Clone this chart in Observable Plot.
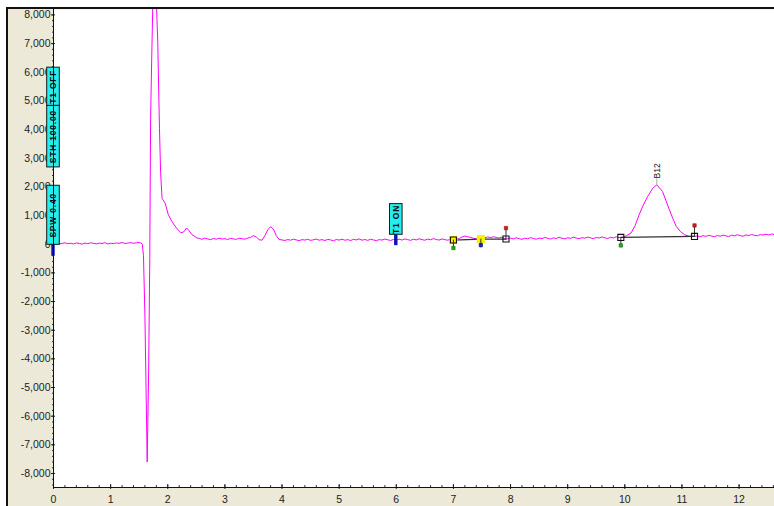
<!DOCTYPE html>
<html><head><meta charset="utf-8">
<script src="https://cdn.jsdelivr.net/npm/d3@7"></script>
<script src="https://cdn.jsdelivr.net/npm/@observablehq/plot@0.6"></script>
<style>
html,body{margin:0;padding:0;background:#fff;}
#wrap{position:relative;width:774px;height:506px;overflow:hidden;}
#panel{position:absolute;left:6px;top:7px;right:0;bottom:0;background:#ECE9D8;border-left:2px solid #111;border-top:2px solid #111;}
#chart{position:absolute;left:0;top:0;}
</style></head><body>
<div id="wrap"><div id="panel"></div><div id="chart"></div></div>
<script>
// ---- chromatogram trace (retention time in min, signal) ----
const retentionTime = [
  0,0.05,0.1,0.15,0.2,0.25,0.3,0.35,0.4,0.45,0.5,0.55,0.6,0.65,0.7,0.75,0.8,0.85,0.9,0.95,1,1.05,1.1,1.15,1.2,1.25,1.3,1.35,1.4,1.45,1.5,
  1.53,1.555,1.575,1.6,1.62,1.64,1.665,1.685,1.7,1.72,1.745,1.77,1.795,1.825,1.855,1.875,1.9,1.955,2.01,2.07,2.15,2.23,2.28,2.33,2.37,2.42,2.46,2.51,
  2.55,2.6,2.65,2.7,2.75,2.8,2.85,2.9,2.95,3,3.05,3.1,3.15,3.2,3.25,3.3,3.35,3.4,3.45,
  3.5,3.55,3.6,3.65,3.7,3.75,3.8,3.85,3.9,3.95,
  4,4.05,4.1,4.15,4.2,4.25,4.3,4.35,4.4,4.45,4.5,4.55,4.6,4.65,4.7,4.75,4.8,4.85,4.9,4.95,
  5,5.05,5.1,5.15,5.2,5.25,5.3,5.35,5.4,5.45,5.5,5.55,5.6,5.65,5.7,5.75,5.8,5.85,5.9,5.95,
  6,6.05,6.1,6.15,6.2,6.25,6.3,6.35,6.4,6.45,6.5,6.55,6.6,6.65,6.7,6.75,6.8,6.85,6.9,6.95,7,
  7.05,7.1,7.15,7.2,7.25,7.3,7.35,7.4,7.45,7.5,7.55,7.6,7.65,7.7,7.75,7.8,7.85,7.9,7.95,
  8,8.05,8.1,8.15,8.2,8.25,8.3,8.35,8.4,8.45,8.5,8.55,8.6,8.65,8.7,8.75,8.8,8.85,8.9,8.95,
  9,9.05,9.1,9.15,9.2,9.25,9.3,9.35,9.4,9.45,9.5,9.55,9.6,9.65,9.7,9.75,9.8,9.85,9.9,
  9.93,9.98,10.03,10.11,10.18,10.25,10.32,10.4,10.49,10.56,10.66,10.72,10.78,10.84,10.9,10.97,11.04,11.12,11.22,
  11.27,11.32,11.37,11.42,11.47,11.52,11.57,11.62,11.67,11.72,11.77,11.82,11.87,11.92,11.97,12.02,12.07,12.12,12.17,12.22,12.27,12.32,12.37,12.42,12.47,12.52,12.57,12.62
];
const signal = [
  15,40,5,30,50,20,35,10,45,25,5,40,20,50,30,15,40,25,55,10,35,20,45,30,60,25,40,55,35,50,60,
  45,0,-400,-2500,-5000,-7600,-4500,-500,4400,6600,9000,10500,8800,7050,4030,2500,1600,1430,1030,800,570,400,430,566,480,340,290,220,
  205,170,215,185,160,200,175,210,180,195,165,205,185,170,210,190,175,215,240,
  300,250,160,140,300,500,615,520,300,165,
  150,130,165,140,175,150,125,160,145,170,135,155,180,140,160,130,170,150,120,165,
  145,175,140,160,130,170,150,185,140,165,135,175,150,125,160,145,180,155,130,165,
  150,175,145,185,160,135,175,150,190,160,140,180,155,195,165,145,185,160,140,175,146,
  170,200,250,285,260,240,205,190,170,181,225,255,230,260,240,215,250,185,190,
  215,185,225,195,170,210,190,230,200,175,215,195,235,205,180,220,200,240,210,185,
  225,205,245,215,190,230,210,250,220,195,235,215,255,225,200,240,220,260,230,
  237,250,300,392,650,1030,1350,1667,1955,2073,1840,1520,1205,900,625,450,337,280,272,
  290,260,300,275,310,285,260,305,280,320,290,270,315,295,330,300,280,325,305,340,310,295,335,320,350,325,355,340
];

// ---- axis ticks ----
const xTicks = [0,1,2,3,4,5,6,7,8,9,10,11,12];
const yTicks = [-8000,-7000,-6000,-5000,-4000,-3000,-2000,-1000,0,1000,2000,3000,4000,5000,6000,7000,8000];
const xDomain = [0, 12.62];
const yDomain = [-8488, 8190];

// ---- timed events (rotated cyan labels) ----
const eventTime   = [0, 0, 0, 6.0];
const eventText   = ["SPW 0.40", "STH 100.00", "T1 OFF", "T1 ON"];
const eventLow    = [-20, 2680, 4830, 330];
const eventHigh   = [2040, 4830, 6160, 1400];
const eventBarLow = [-420, -420, -420, -50];

// ---- integration markers ----
const markTime  = [7.0, 7.48, 7.92, 9.93, 11.22];
const markValue = [146, 181, 181, 237, 272];
const markKind  = ["start", "split", "end", "start", "end"];
const markBox   = [true, false, true, true, true];
const markHighlight = [true, true, false, false, false];
const baselineGroup = ["a", "a", "a", "b", "b"];

// ---- peak labels ----
const peakName = ["B12"];
const peakTime = [10.56];
const peakHeight = [2073];

const trace = retentionTime.map((t, i) => ({t, v: signal[i]}));
const events = eventTime.map((t, i) => ({t, label: eventText[i], lo: eventLow[i], hi: eventHigh[i], blo: eventBarLow[i]}));
const eventBars = events.filter((d, i) => i === 0 || i === 3);
const marks = markTime.map((t, i) => ({t, v: markValue[i], kind: markKind[i], box: markBox[i], hl: markHighlight[i], g: baselineGroup[i]}));
const peaks = peakName.map((n, i) => ({n, t: peakTime[i], v: peakHeight[i]}));

const fmt = d => (d < 0 ? "-" : "") + d3.format(",")(Math.abs(d));
const xMinor = d3.range(0, 12.61, 0.2);
const yMinor = d3.range(-8400, 8101, 200);
const line = {draw(ctx, l) { ctx.moveTo(0, 0); ctx.lineTo(0, -l); }};
const pinColor = {start: "#1DB31D", split: "#1a1ad0", end: "#e01818"};

const svg = Plot.plot({
  width: 774, height: 506,
  marginLeft: 53, marginRight: 0, marginTop: 9, marginBottom: 19,
  style: {background: "transparent", fontFamily: "'Liberation Sans', Arial, sans-serif", fontSize: "10.5px", color: "#222"},
  x: {domain: xDomain},
  y: {domain: yDomain},
  marks: [
    Plot.frame({fill: "white", stroke: "none"}),
    // axes
    Plot.axisY(yMinor, {tickSize: 2, dx: 1, tickFormat: () => "", label: null, stroke: "#333"}),
    Plot.axisY(yTicks, {tickSize: 4, dx: 2, tickPadding: 1, tickFormat: fmt, label: null, stroke: "#222", fill: "#222"}),
    Plot.axisX(xMinor, {tickSize: 3, dy: -2, tickFormat: () => "", label: null, stroke: "#333"}),
    Plot.axisX(xTicks, {tickSize: 5, dy: -3, tickPadding: 6, tickFormat: d => String(d), label: null, stroke: "#222", fill: "#222"}),
    // signal
    Plot.line(trace, {x: "t", y: "v", stroke: "#FF00FF", strokeWidth: 1, clip: true}),
    // integration baselines
    Plot.line(marks, {x: "t", y: "v", z: "g", stroke: "#333", strokeWidth: 1.3}),
    Plot.dot(marks.filter(d => d.hl), {x: "t", y: "v", symbol: "square", r: 4.6, fill: "#F4F400", stroke: "none"}),
    Plot.vector(marks.filter(d => d.kind !== "end"), {x: "t", y: "v", length: 8, rotate: 180, anchor: "start", shape: line, stroke: "#333", strokeWidth: 1}),
    Plot.vector(marks.filter(d => d.kind === "end"), {x: "t", y: "v", length: 10, rotate: 0, anchor: "start", shape: line, stroke: "#333", strokeWidth: 1}),
    Plot.dot(marks.filter(d => d.kind === "start"), {x: "t", y: "v", dy: 8, symbol: "square", r: 1.9, fill: pinColor.start, stroke: "#0a6a0a", strokeWidth: 0.6}),
    Plot.dot(marks.filter(d => d.kind === "split"), {x: "t", y: "v", dy: 6, symbol: "square", r: 1.9, fill: pinColor.split, stroke: "#001070", strokeWidth: 0.6}),
    Plot.dot(marks.filter(d => d.kind === "end"), {x: "t", y: "v", dy: -11, symbol: "square", r: 1.9, fill: pinColor.end, stroke: "#801010", strokeWidth: 0.6}),
    Plot.dot(marks.filter(d => d.box), {x: "t", y: "v", symbol: "square", r: 3.4, fill: "none", stroke: "#111", strokeWidth: 1.1}),
    // peak label
    Plot.vector(peaks, {x: "t", y: "v", length: 6, rotate: 0, anchor: "start", shape: line, stroke: "#aaa", strokeWidth: 1}),
    Plot.text(peaks, {x: "t", y: "v", text: "n", rotate: -90, dy: -14, fontSize: 8.5, fill: "#111"}),
    // timed events
    Plot.rect(eventBars, {x1: "t", x2: "t", y1: "blo", y2: "lo", insetLeft: -1.7, insetRight: -1.7, fill: "#1010B8", stroke: "none"}),
    Plot.rect(events, {x1: "t", x2: "t", y1: "lo", y2: "hi", insetLeft: -6.3, insetRight: -6.3, fill: "#24EEEE", stroke: "#1a1a1a", strokeWidth: 1}),
    Plot.text(events, {x: "t", y: d => (d.lo + d.hi) / 2, text: "label", rotate: -90, fontSize: 8.5, fontWeight: "bold", fill: "#111"}),
    // axis lines
    Plot.ruleX([xDomain[0]], {stroke: "#111", strokeWidth: 1}),
    Plot.ruleY([yDomain[0]], {stroke: "#111", strokeWidth: 1})
  ]
});
svg.querySelectorAll("text").forEach(t => {
  if (eventText.includes(t.textContent)) t.style.letterSpacing = "0.8px";
});
document.getElementById("chart").appendChild(svg);
</script>
</body></html>
